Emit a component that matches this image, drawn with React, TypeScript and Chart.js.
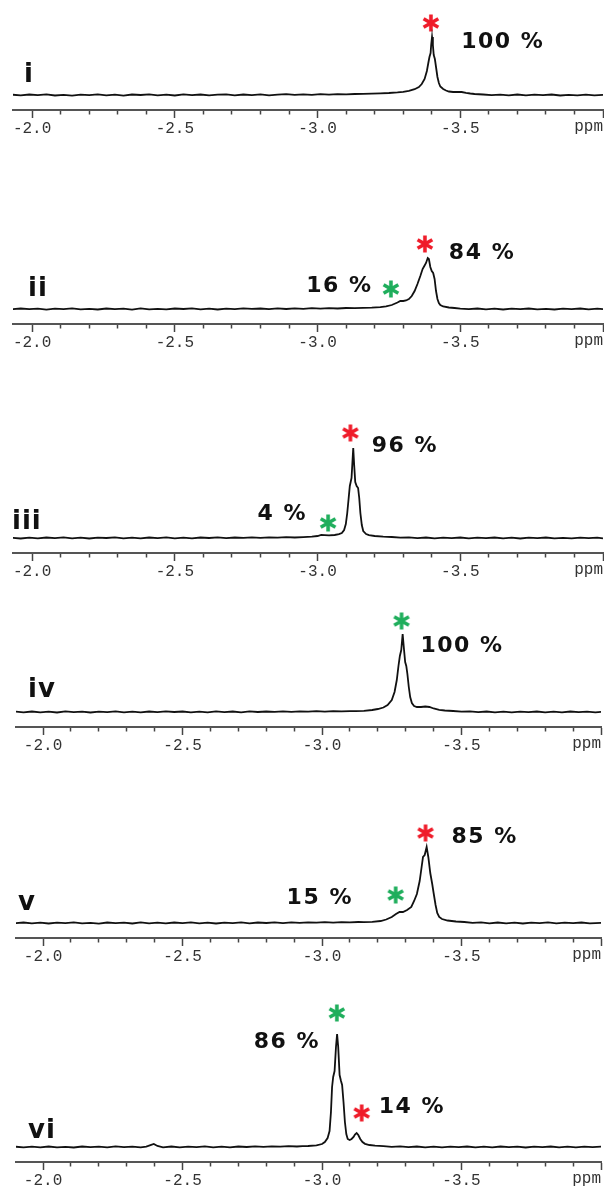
import React, { useEffect, useRef } from "react";
import { Chart, registerables } from "chart.js";

Chart.register(...registerables);

// ---------------- DATA ----------------
const panelNames = ["i", "ii", "iii", "iv", "v", "vi"];
const majorTickValues = [-2.0, -2.5, -3.0, -3.5];
const axisUnit = "ppm";

// [chemical shift (ppm), intensity]
const spectrumI: [number, number][] = [
  [-1.93, 0.3], [-1.96, -0.4], [-1.99, 0.5], [-2.02, -0.2], [-2.05, 0.6], [-2.08, -0.5], [-2.11, 0.2], [-2.14, -0.6],
  [-2.17, 0.4], [-2.2, -0.1], [-2.23, 0.7], [-2.26, -0.4], [-2.29, 0.3], [-2.32, -0.6], [-2.35, 0.5], [-2.38, 0.0],
  [-2.41, 0.6], [-2.44, -0.3], [-2.47, 0.4], [-2.5, -0.5], [-2.53, 0.6], [-2.56, -0.2], [-2.59, 0.5], [-2.62, -0.4],
  [-2.65, 0.3], [-2.68, 0.7], [-2.71, -0.3], [-2.74, 0.5], [-2.77, -0.1], [-2.8, 0.6], [-2.83, -0.3], [-2.86, 0.4],
  [-2.89, 0.8], [-2.92, 0.1], [-2.95, 0.7], [-2.98, 0.2], [-3.01, 0.8], [-3.04, 0.4], [-3.07, 0.9], [-3.1, 0.6],
  [-3.13, 1.0], [-3.16, 1.1], [-3.19, 1.3], [-3.22, 1.6], [-3.25, 2.0], [-3.28, 2.6], [-3.3, 3.2], [-3.32, 4.2],
  [-3.34, 5.8], [-3.355, 8], [-3.365, 11], [-3.375, 16], [-3.383, 24], [-3.388, 32], [-3.392, 38], [-3.396, 42],
  [-3.398, 50], [-3.401, 58], [-3.404, 50], [-3.407, 40], [-3.411, 36], [-3.415, 28], [-3.42, 18], [-3.425, 12],
  [-3.43, 8.5], [-3.44, 6], [-3.45, 4.5], [-3.46, 3.5], [-3.475, 3], [-3.49, 3.2], [-3.505, 3], [-3.52, 2.2],
  [-3.535, 1.5], [-3.55, 1.0], [-3.58, 0.5], [-3.61, -0.2], [-3.64, 0.4], [-3.67, -0.3], [-3.7, 0.5], [-3.73, -0.4],
  [-3.76, 0.3], [-3.79, -0.2], [-3.82, 0.5], [-3.85, -0.5], [-3.88, 0.2], [-3.91, -0.3], [-3.94, 0.4], [-3.97, -0.4],
  [-4.0, 0.2],
];

const spectrumII: [number, number][] = [
  [-1.93, -0.3], [-1.96, 0.5], [-1.99, -0.2], [-2.02, 0.4], [-2.05, -0.6], [-2.08, 0.3], [-2.11, -0.1], [-2.14, 0.6],
  [-2.17, -0.4], [-2.2, 0.2], [-2.23, -0.5], [-2.26, 0.5], [-2.29, -0.2], [-2.32, 0.4], [-2.35, -0.6], [-2.38, 0.6],
  [-2.41, -0.3], [-2.44, 0.2], [-2.47, -0.4], [-2.5, 0.5], [-2.53, 0.0], [-2.56, 0.6], [-2.59, -0.3], [-2.62, 0.4],
  [-2.65, -0.5], [-2.68, 0.3], [-2.71, -0.2], [-2.74, 0.6], [-2.77, 0.1], [-2.8, 0.5], [-2.83, -0.2], [-2.86, 0.6],
  [-2.89, 0.0], [-2.92, 0.7], [-2.95, 0.2], [-2.98, 0.8], [-3.01, 0.3], [-3.04, 0.9], [-3.07, 0.5], [-3.1, 1.0],
  [-3.13, 0.8], [-3.16, 1.2], [-3.19, 1.4], [-3.22, 1.8], [-3.24, 2.6], [-3.26, 4], [-3.28, 6.5], [-3.29, 8],
  [-3.3, 8], [-3.31, 8.5], [-3.32, 10], [-3.33, 13], [-3.34, 18], [-3.35, 25], [-3.36, 33], [-3.368, 40],
  [-3.374, 43], [-3.38, 46], [-3.386, 51], [-3.39, 50], [-3.395, 42], [-3.4, 38], [-3.405, 36], [-3.41, 30],
  [-3.415, 18], [-3.42, 10], [-3.425, 6], [-3.43, 4], [-3.44, 2.5], [-3.46, 1.5], [-3.48, 1.0], [-3.5, 0.4],
  [-3.53, -0.2], [-3.56, 0.5], [-3.59, -0.4], [-3.62, 0.3], [-3.65, -0.5], [-3.68, 0.4], [-3.71, -0.2], [-3.74, 0.5],
  [-3.77, -0.3], [-3.8, 0.2], [-3.83, -0.5], [-3.86, 0.4], [-3.89, -0.1], [-3.92, 0.5], [-3.95, -0.4], [-3.98, 0.3],
  [-4.0, -0.2],
];

const spectrumIII: [number, number][] = [
  [-1.93, 0.2], [-1.96, -0.5], [-1.99, 0.4], [-2.02, -0.3], [-2.05, 0.5], [-2.08, -0.2], [-2.11, 0.6], [-2.14, -0.4],
  [-2.17, 0.3], [-2.2, -0.5], [-2.23, 0.4], [-2.26, 0.0], [-2.29, 0.6], [-2.32, -0.3], [-2.35, 0.4], [-2.38, -0.4],
  [-2.41, 0.5], [-2.44, -0.1], [-2.47, 0.6], [-2.5, -0.3], [-2.53, 0.4], [-2.56, -0.4], [-2.59, 0.5], [-2.62, 0.0],
  [-2.65, 0.6], [-2.68, -0.2], [-2.71, 0.5], [-2.74, 0.1], [-2.77, 0.7], [-2.8, 0.2], [-2.83, 0.6], [-2.86, 0.3],
  [-2.89, 0.8], [-2.92, 0.5], [-2.95, 0.9], [-2.98, 1.3], [-3.0, 2.0], [-3.013, 3.0], [-3.025, 2.8], [-3.04, 2.6],
  [-3.06, 3.0], [-3.075, 3.8], [-3.085, 5], [-3.093, 8], [-3.099, 14], [-3.104, 25], [-3.109, 40], [-3.113, 52],
  [-3.116, 56], [-3.119, 60], [-3.122, 75], [-3.125, 90], [-3.128, 74], [-3.132, 56], [-3.137, 52], [-3.142, 50],
  [-3.146, 40], [-3.15, 25], [-3.155, 13], [-3.16, 7], [-3.17, 4], [-3.18, 2.8], [-3.2, 2.0], [-3.23, 1.4],
  [-3.26, 1.0], [-3.29, 0.4], [-3.32, 0.7], [-3.35, -0.1], [-3.38, 0.5], [-3.41, -0.3], [-3.44, 0.4], [-3.47, -0.2],
  [-3.5, 0.5], [-3.53, -0.4], [-3.56, 0.3], [-3.59, -0.2], [-3.62, 0.5], [-3.65, -0.4], [-3.68, 0.3], [-3.71, -0.5],
  [-3.74, 0.4], [-3.77, -0.2], [-3.8, 0.5], [-3.83, -0.3], [-3.86, 0.2], [-3.89, -0.4], [-3.92, 0.4], [-3.95, -0.2],
  [-3.98, 0.3], [-4.0, -0.3],
];

const spectrumIV: [number, number][] = [
  [-1.9, 0.4], [-1.93, -0.3], [-1.96, 0.5], [-1.99, -0.4], [-2.02, 0.3], [-2.05, -0.5], [-2.08, 0.6], [-2.11, -0.2],
  [-2.14, 0.4], [-2.17, -0.5], [-2.2, 0.3], [-2.23, -0.1], [-2.26, 0.6], [-2.29, -0.4], [-2.32, 0.4], [-2.35, -0.3],
  [-2.38, 0.5], [-2.41, -0.2], [-2.44, 0.6], [-2.47, 0.0], [-2.5, 0.5], [-2.53, -0.3], [-2.56, 0.4], [-2.59, -0.4],
  [-2.62, 0.6], [-2.65, -0.1], [-2.68, 0.5], [-2.71, -0.3], [-2.74, 0.6], [-2.77, 0.0], [-2.8, 0.5], [-2.83, 0.1],
  [-2.86, 0.7], [-2.89, 0.2], [-2.92, 0.6], [-2.95, 0.3], [-2.98, 0.8], [-3.01, 0.4], [-3.04, 0.9], [-3.07, 0.6],
  [-3.1, 0.9], [-3.12, 0.8], [-3.15, 1.2], [-3.18, 2.0], [-3.2, 3.0], [-3.22, 4.5], [-3.235, 7], [-3.25, 12],
  [-3.26, 20], [-3.268, 32], [-3.274, 46], [-3.279, 56], [-3.284, 62], [-3.289, 78], [-3.294, 62], [-3.298, 50],
  [-3.302, 46], [-3.306, 38], [-3.311, 25], [-3.316, 15], [-3.322, 9], [-3.33, 6], [-3.34, 5], [-3.355, 5],
  [-3.37, 5.5], [-3.385, 5], [-3.4, 3.5], [-3.42, 2.2], [-3.44, 1.5], [-3.47, 1.0], [-3.5, 0.3], [-3.53, 0.6],
  [-3.56, -0.2], [-3.59, 0.5], [-3.62, -0.3], [-3.65, 0.4], [-3.68, -0.4], [-3.71, 0.3], [-3.74, -0.2], [-3.77, 0.5],
  [-3.8, -0.4], [-3.83, 0.3], [-3.86, -0.3], [-3.89, 0.5], [-3.92, -0.2], [-3.95, 0.4], [-3.98, -0.3], [-4.0, 0.2],
];

const spectrumV: [number, number][] = [
  [-1.9, -0.2], [-1.93, 0.5], [-1.96, -0.4], [-1.99, 0.3], [-2.02, -0.5], [-2.05, 0.4], [-2.08, -0.1], [-2.11, 0.6],
  [-2.14, -0.4], [-2.17, 0.2], [-2.2, -0.6], [-2.23, 0.5], [-2.26, -0.2], [-2.29, 0.4], [-2.32, -0.5], [-2.35, 0.6],
  [-2.38, -0.3], [-2.41, 0.3], [-2.44, -0.4], [-2.47, 0.5], [-2.5, -0.2], [-2.53, 0.6], [-2.56, -0.3], [-2.59, 0.4],
  [-2.62, -0.5], [-2.65, 0.3], [-2.68, -0.1], [-2.71, 0.6], [-2.74, -0.3], [-2.77, 0.5], [-2.8, 0.0], [-2.83, 0.6],
  [-2.86, -0.1], [-2.89, 0.7], [-2.92, 0.2], [-2.95, 0.6], [-2.98, 0.3], [-3.01, 0.8], [-3.04, 0.4], [-3.07, 0.9],
  [-3.1, 0.6], [-3.13, 1.0], [-3.15, 0.8], [-3.18, 1.2], [-3.21, 2.0], [-3.23, 3.5], [-3.25, 6], [-3.265, 9],
  [-3.278, 11], [-3.29, 11], [-3.305, 13], [-3.32, 16], [-3.33, 22], [-3.34, 29], [-3.35, 42], [-3.357, 56],
  [-3.362, 66], [-3.368, 68], [-3.375, 76], [-3.381, 66], [-3.388, 50], [-3.395, 39], [-3.4, 30], [-3.407, 18],
  [-3.413, 10], [-3.42, 6], [-3.43, 4], [-3.45, 2.5], [-3.48, 1.5], [-3.51, 1.0], [-3.54, 0.2], [-3.57, 0.6],
  [-3.6, -0.3], [-3.63, 0.5], [-3.66, -0.4], [-3.69, 0.3], [-3.72, -0.5], [-3.75, 0.4], [-3.78, -0.2], [-3.81, 0.6],
  [-3.84, -0.4], [-3.87, 0.3], [-3.9, -0.2], [-3.93, 0.5], [-3.96, -0.4], [-4.0, 0.2],
];

const spectrumVI: [number, number][] = [
  [-1.9, 0.3], [-1.93, -0.4], [-1.96, 0.4], [-1.99, -0.3], [-2.02, 0.5], [-2.05, -0.4], [-2.08, 0.2], [-2.11, -0.5],
  [-2.14, 0.5], [-2.17, -0.2], [-2.2, 0.4], [-2.23, -0.4], [-2.26, 0.6], [-2.29, -0.1], [-2.32, 0.4], [-2.35, -0.3],
  [-2.37, 0.4], [-2.385, 1.8], [-2.397, 3.0], [-2.41, 1.0], [-2.43, -0.3], [-2.46, 0.5], [-2.49, -0.4], [-2.52, 0.3],
  [-2.55, -0.2], [-2.58, 0.6], [-2.61, -0.3], [-2.64, 0.4], [-2.67, -0.4], [-2.7, 0.5], [-2.73, 0.0], [-2.76, 0.6],
  [-2.79, 0.1], [-2.82, 0.7], [-2.85, 0.3], [-2.88, 0.8], [-2.91, 0.5], [-2.93, 0.9], [-2.95, 1.0], [-2.98, 1.6],
  [-3.0, 3], [-3.01, 5], [-3.02, 9], [-3.027, 16], [-3.032, 35], [-3.036, 60], [-3.04, 70], [-3.045, 76],
  [-3.05, 100], [-3.054, 113], [-3.058, 100], [-3.063, 72], [-3.068, 66], [-3.072, 62], [-3.077, 45], [-3.082, 25],
  [-3.087, 13], [-3.092, 8], [-3.099, 7], [-3.106, 8], [-3.113, 10], [-3.118, 12.5], [-3.124, 14], [-3.13, 12],
  [-3.137, 8], [-3.145, 5], [-3.154, 3.2], [-3.17, 2.0], [-3.19, 1.3], [-3.22, 0.8], [-3.25, 0.2], [-3.28, 0.6],
  [-3.31, -0.2], [-3.34, 0.5], [-3.37, -0.3], [-3.4, 0.4], [-3.43, -0.4], [-3.46, 0.3], [-3.49, -0.1], [-3.52, 0.5],
  [-3.55, -0.4], [-3.58, 0.3], [-3.61, -0.3], [-3.64, 0.5], [-3.67, -0.2], [-3.7, 0.4], [-3.73, -0.5], [-3.76, 0.3],
  [-3.79, -0.2], [-3.82, 0.5], [-3.85, -0.3], [-3.88, 0.4], [-3.91, -0.4], [-3.94, 0.3], [-3.97, -0.2], [-4.0, 0.3],
];

const spectra = [spectrumI, spectrumII, spectrumIII, spectrumIV, spectrumV, spectrumVI];

// Integration labels per spectrum
const percentTexts = [["100 %"], ["84 %", "16 %"], ["96 %", "4 %"], ["100 %"], ["85 %", "15 %"], ["86 %", "14 %"]];
// Species markers: which species each asterisk marks and the peak it sits over (ppm)
const markerSpecies = [["red"], ["red", "green"], ["red", "green"], ["green"], ["red", "green"], ["green", "red"]];
const markerPpm = [[-3.397], [-3.376, -3.257], [-3.115, -3.037], [-3.285], [-3.371, -3.264], [-3.053, -3.142]];

// ---------------- LAYOUT / STYLE ----------------
const RED = "#ef1c2a";
const GREEN = "#1fae5c";
const markerY = [[72], [65, 20], [105, 15], [91], [90, 28], [134, 34]];
const textPos = [
  [[-3.503, 53]],
  [[-3.46, 56], [-2.96, 23]],
  [[-3.19, 92], [-2.79, 24]],
  [[-3.353, 66]],
  [[-3.464, 86], [-2.873, 25]],
  [[-2.755, 105], [-3.203, 40]],
];
const nameLeft = [24, 28, 12, 28, 18, 28];
const nameBottom = [13, 13, 9, 15, 13, 9];

const axisY = [110, 324, 553, 727, 938, 1162];
const xMaxs = [-1.933, -1.933, -1.933, -1.903, -1.903, -1.903];
const padL = [13, 13, 13, 16, 16, 16];
const padR = [1, 1, 1, 3, 3, 3];
const CANVAS_H = 220;
const AXIS_H = 35;
const PAD_TOP = 20;
const Y_MIN = -15;
const Y_MAX = 150;
const TICK_FONT = { family: "'Liberation Mono', 'DejaVu Sans Mono', monospace", size: 16 };
const TICK_LEN = 8;
const TICK_PAD = 1;

function asteriskImage(color: string): HTMLCanvasElement {
  const c = document.createElement("canvas");
  c.width = 20;
  c.height = 20;
  const g = c.getContext("2d")!;
  g.strokeStyle = color;
  g.lineWidth = 3.6;
  g.lineCap = "butt";
  for (const a of [90, 30, 150]) {
    const r = (a * Math.PI) / 180;
    g.beginPath();
    g.moveTo(10 - 8.5 * Math.cos(r), 10 - 8.5 * Math.sin(r));
    g.lineTo(10 + 8.5 * Math.cos(r), 10 + 8.5 * Math.sin(r));
    g.stroke();
  }
  return c;
}

function isMultiple(v: number, step: number) {
  const q = v / step;
  return Math.abs(q - Math.round(q)) < 1e-6;
}

function Panel({ idx }: { idx: number }) {
  const ref = useRef<HTMLCanvasElement>(null);
  useEffect(() => {
    if (!ref.current) return;
    const red = asteriskImage(RED);
    const green = asteriskImage(GREEN);
    const markers = markerPpm[idx].map((p, k) => ({ x: p, y: markerY[idx][k] }));
    const markerStyles = markerSpecies[idx].map((s) => (s === "red" ? red : green));

    const textPlugin = {
      id: "panelText" + idx,
      afterDraw(chart: any) {
        const { ctx, scales } = chart;
        const xs = scales.x;
        const ys = scales.y;
        ctx.save();
        ctx.fillStyle = "#111";
        ctx.font = "bold 22px 'DejaVu Sans'";
        ctx.textAlign = "left";
        ctx.textBaseline = "middle";
        (ctx as any).letterSpacing = "1.5px";
        percentTexts[idx].forEach((t, k) => {
          const [p, v] = textPos[idx][k];
          ctx.fillText(t, xs.getPixelForValue(p), ys.getPixelForValue(v));
        });
        (ctx as any).letterSpacing = "1px";
        ctx.font = "bold 26px 'DejaVu Sans'";
        ctx.textBaseline = "alphabetic";
        ctx.fillText(panelNames[idx], nameLeft[idx], ys.getPixelForValue(nameBottom[idx]));
        (ctx as any).letterSpacing = "0px";
        ctx.fillStyle = "#333";
        ctx.font = `${TICK_FONT.size}px ${TICK_FONT.family}`;
        ctx.textAlign = "right";
        ctx.textBaseline = "top";
        ctx.fillText(axisUnit, chart.chartArea.right, xs.top + TICK_LEN + TICK_PAD);
        ctx.restore();
      },
    };

    const chart = new Chart(ref.current, {
      type: "scatter",
      data: {
        datasets: [
          {
            data: spectra[idx].map(([x, y]) => ({ x, y })),
            showLine: true,
            borderColor: "#111",
            borderWidth: 1.8,
            pointRadius: 0,
            tension: 0,
          },
          {
            data: markers,
            pointStyle: markerStyles as any,
            pointRadius: 9,
            showLine: false,
            clip: false as any,
          },
        ],
      },
      options: {
        animation: false,
        responsive: false,
        maintainAspectRatio: false,
        layout: { autoPadding: false, padding: { left: padL[idx], right: padR[idx], top: PAD_TOP, bottom: 0 } },
        plugins: { legend: { display: false }, tooltip: { enabled: false } },
        events: [],
        scales: {
          x: {
            type: "linear",
            reverse: true,
            min: -4.0,
            max: xMaxs[idx],
            afterFit: (s: any) => {
              s.height = AXIS_H;
              s.paddingLeft = 0;
              s.paddingRight = 0;
            },
            border: { display: true, color: "#555", width: 2 },
            grid: {
              drawOnChartArea: false,
              drawTicks: true,
              tickLength: TICK_LEN,
              tickWidth: 1.5,
              tickColor: (c: any) => (c.tick && isMultiple(c.tick.value, 0.1) ? "#444" : "rgba(0,0,0,0)"),
              tickBorderDash: (c: any) => (c.tick && isMultiple(c.tick.value, 0.5) ? [] : [3.5, 40]),
            } as any,
            ticks: {
              stepSize: 0.1,
              includeBounds: false,
              autoSkip: false,
              maxRotation: 0,
              padding: TICK_PAD,
              color: "#333",
              font: TICK_FONT,
              callback: (v: any) => {
                const n = Number(v);
                return majorTickValues.some((m) => Math.abs(m - n) < 1e-6) ? n.toFixed(1) : "";
              },
            },
          },
          y: { display: false, min: Y_MIN, max: Y_MAX },
        },
      },
      plugins: [textPlugin],
    } as any);
    return () => chart.destroy();
  }, [idx]);
  const top = axisY[idx] - (CANVAS_H - AXIS_H);
  return (
    <div style={{ position: "absolute", left: 0, top, width: 604, height: CANVAS_H }}>
      <canvas ref={ref} width={604} height={CANVAS_H} style={{ display: "block" }} />
    </div>
  );
}

export default function App() {
  return (
    <div style={{ position: "absolute", left: 0, top: 0, width: 604, height: 1198, background: "#fff", overflow: "hidden" }}>
      {panelNames.map((_, i) => (
        <Panel key={i} idx={i} />
      ))}
    </div>
  );
}
